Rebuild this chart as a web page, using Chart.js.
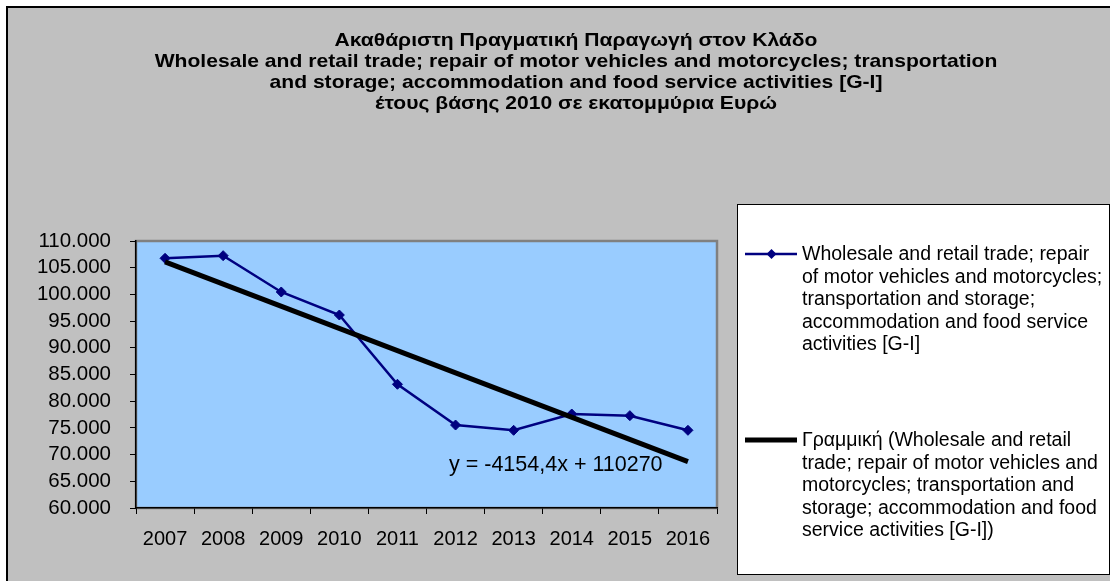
<!DOCTYPE html>
<html>
<head>
<meta charset="utf-8">
<script src="https://cdn.jsdelivr.net/npm/chart.js@4/dist/chart.umd.min.js"></script>
<style>
  html, body { margin: 0; padding: 0; background: #fff; }
  #wrap { width: 1110px; height: 581px; }
</style>
</head>
<body>
<div id="wrap"><canvas id="grossChart" width="1110" height="581"></canvas></div>
<script>
// Data
const years = ['2007', '2008', '2009', '2010', '2011', '2012', '2013', '2014', '2015', '2016'];
const grossOutput = [106760, 107250, 100450, 96140, 83170, 75540, 74550, 77600, 77290, 74550];
// trendline only needs its two end points, the rest is spanned
const trendValues = [106100, null, null, null, null, null, null, null, null, 68700];
const yMin = 60000;
const yMax = 110000;
const yStep = 5000;

const titleLines = [
  'Ακαθάριστη Πραγματική Παραγωγή στον Κλάδο',
  'Wholesale and retail trade; repair of motor vehicles and motorcycles; transportation',
  'and storage; accommodation and food service activities [G-I]',
  'έτους βάσης 2010 σε εκατομμύρια Ευρώ'
];
const seriesLabel = [
  'Wholesale and retail trade; repair',
  'of motor vehicles and motorcycles;',
  'transportation and storage;',
  'accommodation and food service',
  'activities [G-I]'
];
const trendLabel = [
  'Γραμμική (Wholesale and retail',
  'trade; repair of motor vehicles and',
  'motorcycles; transportation and',
  'storage; accommodation and food',
  'service activities [G-I])'
];
const trendEquation = 'y = -4154,4x + 110270';

const FONT = '"Liberation Sans", Arial, sans-serif';

// Formats 110000 as 110.000
function fmt(v) {
  return String(v).replace(/\B(?=(\d{3})+(?!\d))/g, '.');
}

// Gray chart background, blue plot area, title, legend box
const backgroundPlugin = {
  id: 'excelBackground',
  beforeDraw(chart) {
    const ctx = chart.ctx;
    const a = chart.chartArea;
    ctx.save();
    ctx.fillStyle = '#ffffff';
    ctx.fillRect(0, 0, chart.width, chart.height);
    ctx.fillStyle = '#c0c0c0';
    ctx.fillRect(7, 7, chart.width, chart.height);
    ctx.strokeStyle = '#000000';
    ctx.lineWidth = 2;
    ctx.beginPath();
    ctx.moveTo(7, chart.height);
    ctx.lineTo(7, 7);
    ctx.lineTo(chart.width, 7);
    ctx.stroke();
    ctx.fillStyle = '#99ccff';
    ctx.fillRect(a.left, a.top, a.right - a.left, a.bottom - a.top);
    ctx.strokeStyle = '#808080';
    ctx.lineWidth = 2.5;
    ctx.strokeRect(a.left, a.top, a.right - a.left, a.bottom - a.top);
    ctx.restore();
  },
  afterDraw(chart) {
    const ctx = chart.ctx;
    ctx.save();
    // title (Excel draws it a bit wider than Arial, so stretch it)
    ctx.fillStyle = '#000';
    ctx.textAlign = 'center';
    ctx.textBaseline = 'alphabetic';
    ctx.font = 'bold 18.5px ' + FONT;
    titleLines.forEach((t, i) => {
      ctx.save();
      ctx.translate(576, 46 + i * 21);
      ctx.scale(1.14, 1);
      ctx.fillText(t, 0, 0);
      ctx.restore();
    });

    // trend equation
    ctx.textAlign = 'left';
    ctx.font = '21.5px ' + FONT;
    ctx.fillText(trendEquation, 449, 471);

    // legend box
    ctx.fillStyle = '#ffffff';
    ctx.fillRect(737, 204, 372, 370);
    ctx.strokeStyle = '#000000';
    ctx.lineWidth = 1;
    ctx.strokeRect(737.5, 204.5, 372, 370);

    ctx.strokeStyle = '#000080';
    ctx.lineWidth = 2.5;
    ctx.beginPath();
    ctx.moveTo(745, 254);
    ctx.lineTo(797, 254);
    ctx.stroke();
    ctx.fillStyle = '#000080';
    ctx.beginPath();
    ctx.moveTo(771.5, 249);
    ctx.lineTo(776.5, 254);
    ctx.lineTo(771.5, 259);
    ctx.lineTo(766.5, 254);
    ctx.closePath();
    ctx.fill();

    ctx.strokeStyle = '#000000';
    ctx.lineWidth = 5;
    ctx.beginPath();
    ctx.moveTo(745, 440);
    ctx.lineTo(797, 440);
    ctx.stroke();

    ctx.fillStyle = '#000';
    ctx.font = '19.5px ' + FONT;
    seriesLabel.forEach((t, i) => ctx.fillText(t, 802, 260 + i * 22.6));
    trendLabel.forEach((t, i) => ctx.fillText(t, 802, 446 + i * 22.6));
    ctx.restore();
  }
};

const ctx = document.getElementById('grossChart').getContext('2d');
const grossChart = new Chart(ctx, {
  type: 'line',
  data: {
    labels: years,
    datasets: [
      {
        label: trendLabel.join(' '),
        data: trendValues,
        borderColor: '#000000',
        borderWidth: 5,
        pointRadius: 0,
        spanGaps: true,
        fill: false,
        order: 0
      },
      {
        label: seriesLabel.join(' '),
        data: grossOutput,
        borderColor: '#000080',
        backgroundColor: '#000080',
        borderWidth: 2.5,
        pointStyle: 'rectRot',
        pointRadius: 5,
        pointBorderWidth: 1,
        tension: 0,
        fill: false,
        order: 1
      }
    ]
  },
  options: {
    responsive: false,
    devicePixelRatio: 1,
    animation: false,
    layout: { padding: { left: 0, right: 393, top: 241, bottom: 0 } },
    plugins: {
      legend: { display: false },
      title: { display: false },
      tooltip: { enabled: false }
    },
    scales: {
      x: {
        offset: true,
        afterFit(scale) { scale.height = 73; },
        grid: {
          offset: true,
          drawOnChartArea: false,
          drawTicks: true,
          tickLength: 6,
          color: '#000000'
        },
        border: { display: true, color: '#000000', width: 1.5 },
        ticks: {
          color: '#000000',
          padding: 13,
          maxRotation: 0,
          autoSkip: false,
          font: { family: FONT, size: 20 }
        }
      },
      y: {
        min: yMin,
        max: yMax,
        afterFit(scale) { scale.width = 136; },
        grid: {
          drawOnChartArea: false,
          drawTicks: true,
          tickLength: 6,
          color: '#000000'
        },
        border: { display: true, color: '#000000', width: 1.5 },
        ticks: {
          stepSize: yStep,
          autoSkip: false,
          color: '#000000',
          padding: 19,
          font: { family: FONT, size: 20.5 },
          callback: (v) => fmt(v)
        }
      }
    }
  },
  plugins: [backgroundPlugin]
});
</script>
</body>
</html>
